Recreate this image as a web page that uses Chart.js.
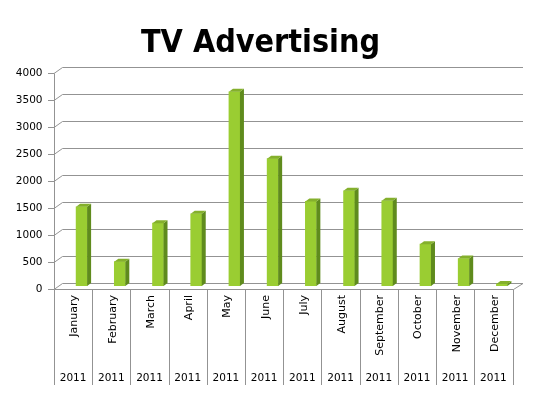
<!DOCTYPE html>
<html lang="en">
<head>
<meta charset="UTF-8">
<title>TV Advertising</title>
<script src="https://cdn.jsdelivr.net/npm/chart.js"></script>
<style>
  body { margin: 0; background: #fff; }
</style>
</head>
<body>
<canvas id="tvChart" width="544" height="395"></canvas>
<script>
const months = ['January', 'February', 'March', 'April', 'May', 'June',
                'July', 'August', 'September', 'October', 'November', 'December'];
const years = ['2011', '2011', '2011', '2011', '2011', '2011',
               '2011', '2011', '2011', '2011', '2011', '2011'];
const spend = [1470, 452, 1166, 1340, 3604, 2363, 1569, 1767, 1581, 776, 508, 37];

// fake depth: the front edge sits DX left and a few px lower than the back wall
const DX = 8.5;
const FRONT = 2.5, BACK = -3.5;
const gridColor = '#939393';

const wall3d = {
  id: 'wall3d',
  beforeDatasetsDraw(chart) {
    const { ctx, chartArea: a, scales: { x, y } } = chart;
    ctx.save();
    ctx.strokeStyle = gridColor;
    ctx.lineWidth = 1;
    // gridlines, going back from the front axis to the wall
    y.ticks.forEach(t => {
      const py = y.getPixelForValue(t.value);
      const fy = Math.round(py + FRONT) + 0.5;
      const by = Math.round(py + BACK) + 0.5;
      ctx.beginPath();
      ctx.moveTo(a.left - DX - 6, fy);
      ctx.lineTo(a.left - DX, fy);
      ctx.lineTo(a.left, by);
      ctx.lineTo(a.right + 2, by);
      ctx.stroke();
    });
    const top = Math.round(y.getPixelForValue(y.max) + FRONT) + 0.5;
    const floor = Math.round(y.getPixelForValue(0) + FRONT) + 0.5;
    const floorBack = Math.round(y.getPixelForValue(0) + BACK) + 0.5;
    const half = (x.getPixelForValue(1) - x.getPixelForValue(0)) / 2;
    const fl = Math.round(a.left - DX) + 0.5;
    const fr = Math.round(x.getPixelForValue(months.length - 1) + half - DX) + 0.5;
    ctx.beginPath();
    ctx.moveTo(fl, top);
    ctx.lineTo(fl, floor);
    ctx.lineTo(fr, floor);
    ctx.lineTo(a.right + 2, floorBack);
    ctx.stroke();
    // category dividers through both label rows
    ctx.beginPath();
    for (let i = 0; i <= months.length; i++) {
      const px = Math.round(x.getPixelForValue(i) - half - DX) + 0.5;
      ctx.moveTo(px, floor);
      ctx.lineTo(px, 385);
    }
    ctx.stroke();
    ctx.restore();
  },
  afterDatasetsDraw(chart) {
    const { ctx } = chart;
    const d = 4, h = 3;
    chart.getDatasetMeta(0).data.forEach(bar => {
      const { x, y, base, width } = bar.getProps(['x', 'y', 'base', 'width'], true);
      const l = x - width / 2, r = x + width / 2;
      ctx.save();
      ctx.fillStyle = '#5f8b1d';
      ctx.beginPath();
      ctx.moveTo(r, y);
      ctx.lineTo(r + d, y - h);
      ctx.lineTo(r + d, base - h);
      ctx.lineTo(r, base);
      ctx.closePath();
      ctx.fill();
      ctx.fillStyle = '#84b02c';
      ctx.beginPath();
      ctx.moveTo(l, y);
      ctx.lineTo(l + d, y - h);
      ctx.lineTo(r + d, y - h);
      ctx.lineTo(r, y);
      ctx.closePath();
      ctx.fill();
      ctx.restore();
    });
  }
};

const ctx = document.getElementById('tvChart').getContext('2d');
const chart = new Chart(ctx, {
  type: 'bar',
  data: {
    labels: months,
    datasets: [{
      label: 'TV Advertising',
      data: spend,
      backgroundColor: '#9acd32',
      borderWidth: 0,
      barThickness: 11
    }]
  },
  options: {
    responsive: false,
    animation: false,
    layout: { padding: { top: 0, right: 23, bottom: 10, left: 0 } },
    plugins: {
      legend: { display: false },
      tooltip: { enabled: false },
      title: {
        display: true,
        text: 'TV Advertising',
        color: '#000',
        font: { family: "'DejaVu Sans Condensed', 'DejaVu Sans', sans-serif", size: 32, weight: 'bold' },
        padding: { top: 24, bottom: 8 }
      }
    },
    scales: {
      y: {
        min: 0,
        max: 4000,
        ticks: { stepSize: 500, padding: 20, labelOffset: 3, color: '#000',
                 callback: v => String(v),
                 font: { family: "'DejaVu Sans', sans-serif", size: 10.5 } },
        grid: { display: false, drawTicks: false },
        border: { display: false },
        afterFit(s) { s.width = 62.5; }
      },
      x: {
        grid: { display: false, drawTicks: false },
        border: { display: false },
        ticks: { autoSkip: false, minRotation: 90, maxRotation: 90, padding: 9,
                 labelOffset: -7, color: '#000',
                 font: { family: "'DejaVu Sans', sans-serif", size: 11 } },
        afterFit(s) { s.height = 80; }
      },
      x2: {
        type: 'category',
        position: 'bottom',
        labels: years,
        grid: { display: false, drawTicks: false },
        border: { display: false },
        ticks: { autoSkip: false, maxRotation: 0, padding: 6, labelOffset: -8.5, color: '#000',
                 font: { family: "'DejaVu Sans', sans-serif", size: 10.5 } },
        afterFit(s) { s.height = 19; }
      }
    }
  },
  plugins: [wall3d]
});
</script>
</body>
</html>
